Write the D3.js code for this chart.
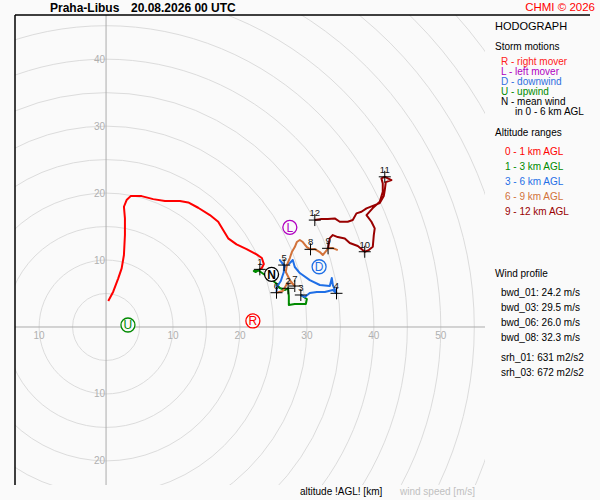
<!DOCTYPE html>
<html>
<head>
<meta charset="utf-8">
<script src="https://cdn.jsdelivr.net/npm/d3@7"></script>
<style>
  html, body { margin: 0; padding: 0; background: #fafafa; }
  svg { display: block; font-family: "Liberation Sans", Arial, sans-serif; }
</style>
</head>
<body>
<svg id="chart" width="600" height="500"></svg>
<script>
// hodograph trace [u, v] in m/s, split by altitude band
const layer0_1 = [[0.33,3.88],[1.07,5.27],[1.82,7.27],[2.33,8.76],[2.67,10.75],[2.82,13.73],[2.82,16.22],
  [2.67,17.96],[3.07,18.96],[3.67,19.55],[5.31,19.55],[7.04,19.10],[8.79,18.81],[11.03,18.81],[12.27,18.61],
  [13.76,17.81],[15.51,16.72],[16.75,15.72],[17.49,14.48],[18.24,13.24],[19.49,12.34],[20.99,11.64],
  [22.48,10.85],[23.27,10.30],[23.57,9.40],[23.27,8.81],[22.97,8.61]];
const layer1_3 = [[22.97,8.61],[22.37,8.21],[22.07,8.36],[22.67,8.51],[24.16,7.46],[25.36,6.57],[25.96,5.82],
  [26.70,5.52],[27.19,5.78],[27.30,4.63],[27.30,3.28],[28.19,3.43],[29.84,3.43],[29.99,4.18],[29.09,4.78]];
const layer3_6 = [[29.09,4.78],[29.69,4.48],[30.43,5.07],[31.48,5.22],[32.67,5.22],[33.87,5.52],[34.42,5.03],
  [33.87,6.27],[33.72,7.31],[33.42,6.12],[31.93,6.27],[30.43,7.01],[28.94,8.06],[28.19,8.96],[27.89,10.0],
  [27.45,9.55],[26.70,8.96],[25.96,10.0],[26.60,9.25],[26.55,8.21],[26.10,6.87],[25.51,5.97],[25.46,5.12]];
const layer6_9 = [[25.46,5.12],[26.40,5.37],[27.00,6.42],[27.75,6.57],[28.19,6.12],[27.45,7.01],[26.85,8.21],
  [27.00,9.25],[27.45,10.30],[27.75,11.19],[28.19,11.94],[28.49,12.69],[28.94,12.99],[29.39,12.69],
  [29.99,11.94],[30.54,11.60],[31.18,11.64],[31.93,11.19],[32.37,10.75],[32.97,11.49],[33.16,11.75],
  [33.87,11.79],[34.61,11.49]];
const layer9_12 = [[33.16,11.75],[33.42,13.28],[33.87,13.73],[34.61,13.43],[35.66,13.21],[36.40,12.54],
  [37.60,12.09],[38.64,11.24],[39.24,11.49],[39.84,11.99],[39.99,13.73],[40.13,14.73],[39.64,15.72],
  [38.90,16.72],[39.84,17.76],[40.88,18.70],[41.33,20.19],[41.33,21.45],[41.13,22.19],[41.63,22.43],
  [42.63,21.94],[41.78,21.64],[41.63,20.45],[41.48,19.55],[40.88,18.51],[38.90,17.72],[38.15,17.21],
  [37.40,16.97],[36.85,15.97],[36.10,15.72],[34.91,15.72],[34.16,16.22],[33.12,16.12],[32.18,16.12],
  [31.18,15.97]];

const layerColors = ['#ff0000', '#008a00', '#1f6fe6', '#d2723a', '#990000'];
const layerNames = ['0 - 1 km AGL', '1 - 3 km AGL', '3 - 6 km AGL', '6 - 9 km AGL', '9 - 12 km AGL'];

// wind at every km (1..12)
const kmLabels = ['1','2','3','4','5','6','7','8','9','10','11','12'];
const kmPoints = [[22.97,8.61],[27.19,5.78],[29.09,4.78],[34.42,5.03],[26.60,9.25],[25.46,5.12],
  [28.19,6.12],[30.54,11.60],[33.16,11.75],[38.64,11.24],[41.63,22.43],[31.18,15.97]];

// storm motions
const stormLetters = ['R', 'L', 'D', 'U', 'N'];
const stormPoints = [[21.93,0.90],[27.45,14.88],[31.82,9.00],[3.27,0.30],[24.72,7.87]];
const stormColors = ['#ff0000', '#b000c0', '#1f6fe6', '#008a00', '#000000'];

const stormLegend = ['R - right mover', 'L - left mover', 'D - downwind', 'U - upwind', 'N - mean wind'];
const legendColors = ['#ff2020', '#b000c0', '#2f6fe0', '#008a00', '#000000'];

const windProfile = ['bwd_01: 24.2 m/s', 'bwd_03: 29.5 m/s', 'bwd_06: 26.0 m/s', 'bwd_08: 32.3 m/s'];
const helicity = ['srh_01: 631 m2/s2', 'srh_03: 672 m2/s2'];

const xTicks = [-10, 10, 20, 30, 40, 50];
const yTicks = [40, 30, 20, 10, -10, -20];
const ringStep = 5;
const ringMax = 75;

const svg = d3.select('#chart');
const L = 15, T = 15, R = 485, B = 485;

const x = d3.scaleLinear().domain([-13.6, 56.6]).range([L, R]);
const y = d3.scaleLinear().domain([-23.6, 46.6]).range([B, T]);
const px = x(1) - x(0);

svg.append('defs').append('clipPath').attr('id', 'plot')
  .append('rect').attr('x', L).attr('y', T).attr('width', R - L).attr('height', B - T);

const plot = svg.append('g').attr('clip-path', 'url(#plot)');

// speed rings
plot.selectAll('circle.ring')
  .data(d3.range(ringStep, ringMax + 1, ringStep))
  .enter().append('circle')
  .attr('class', 'ring')
  .attr('cx', x(0)).attr('cy', y(0))
  .attr('r', d => d * px)
  .attr('fill', 'none')
  .attr('stroke', '#dcdcdc')
  .attr('stroke-width', 1);

// axes through origin
plot.append('line').attr('x1', L).attr('x2', R).attr('y1', y(0)).attr('y2', y(0))
  .attr('stroke', '#ababab');
plot.append('line').attr('x1', x(0)).attr('x2', x(0)).attr('y1', T).attr('y2', B)
  .attr('stroke', '#ababab');

svg.selectAll('text.xt')
  .data(xTicks)
  .enter().append('text')
  .attr('x', d => x(d)).attr('y', y(0) + 12)
  .attr('text-anchor', 'middle')
  .attr('font-size', 10).attr('fill', '#b0b0b0')
  .text(d => Math.abs(d));

svg.selectAll('text.yt')
  .data(yTicks)
  .enter().append('text')
  .attr('x', x(0) - 1).attr('y', d => y(d) + 3.5)
  .attr('text-anchor', 'end')
  .attr('font-size', 10).attr('fill', '#b0b0b0')
  .text(d => Math.abs(d));

// frame
svg.append('line').attr('x1', L).attr('x2', L).attr('y1', T).attr('y2', B)
  .attr('stroke', '#000').attr('stroke-width', 1.5);
svg.append('line').attr('x1', L).attr('x2', 590).attr('y1', T).attr('y2', T)
  .attr('stroke', '#000').attr('stroke-width', 1.5);

// hodograph
const line = d3.line().x(d => x(d[0])).y(d => y(d[1]));
[layer0_1, layer1_3, layer3_6, layer6_9, layer9_12].forEach((pts, i) => {
  plot.append('path')
    .datum(pts)
    .attr('d', line)
    .attr('fill', 'none')
    .attr('stroke', layerColors[i])
    .attr('stroke-width', 2)
    .attr('stroke-linejoin', 'round');
});

// km crosses
const km = plot.selectAll('g.km')
  .data(kmPoints)
  .enter().append('g')
  .attr('transform', d => `translate(${x(d[0])},${y(d[1])})`);
km.append('path').attr('d', 'M-6,0H6M0,-6V6').attr('stroke', '#000').attr('stroke-width', 1);
km.append('text')
  .attr('y', -4).attr('text-anchor', 'middle')
  .attr('font-size', 9.5).attr('fill', '#111')
  .text((d, i) => kmLabels[i]);

// storm motion markers
const sm = plot.selectAll('g.sm')
  .data(stormPoints)
  .enter().append('g')
  .attr('transform', d => `translate(${x(d[0])},${y(d[1])})`);
sm.append('circle').attr('r', 7)
  .attr('fill', (d, i) => stormLetters[i] === 'N' ? '#fff' : '#fafafa')
  .attr('stroke', (d, i) => stormColors[i]).attr('stroke-width', 1.3);
sm.append('text')
  .attr('y', 4.3).attr('text-anchor', 'middle')
  .attr('font-size', 12)
  .attr('font-weight', (d, i) => stormLetters[i] === 'N' ? 'bold' : 'normal')
  .attr('fill', (d, i) => stormColors[i])
  .text((d, i) => stormLetters[i]);

// titles
svg.append('text').attr('x', 50).attr('y', 11.5).attr('font-size', 12).attr('font-weight', 'bold')
  .text('Praha-Libus');
svg.append('text').attr('x', 131).attr('y', 11.5).attr('font-size', 12).attr('font-weight', 'bold')
  .text('20.08.2026 00 UTC');
svg.append('text').attr('x', 595).attr('y', 11).attr('text-anchor', 'end')
  .attr('font-size', 11.5).attr('fill', '#ff0000').text('CHMI © 2026');

// right panel
const panel = svg.append('g').attr('font-size', 10);
panel.append('text').attr('x', 495).attr('y', 30).attr('font-size', 11).text('HODOGRAPH');
panel.append('text').attr('x', 495).attr('y', 50).text('Storm motions');
panel.selectAll('text.sl')
  .data(stormLegend)
  .enter().append('text')
  .attr('x', 501).attr('y', (d, i) => 65 + i * 10)
  .attr('fill', (d, i) => legendColors[i])
  .text(d => d);
panel.append('text').attr('x', 515).attr('y', 115).text('in 0 - 6 km AGL');

panel.append('text').attr('x', 495).attr('y', 135.5).text('Altitude ranges');
panel.selectAll('text.al')
  .data(layerNames)
  .enter().append('text')
  .attr('x', 505).attr('y', (d, i) => 155 + i * 15)
  .attr('fill', (d, i) => layerColors[i])
  .text(d => d);

panel.append('text').attr('x', 495).attr('y', 276.5).text('Wind profile');
panel.selectAll('text.wp')
  .data(windProfile)
  .enter().append('text')
  .attr('x', 501).attr('y', (d, i) => 295.5 + i * 15)
  .text(d => d);
panel.selectAll('text.hl')
  .data(helicity)
  .enter().append('text')
  .attr('x', 501).attr('y', (d, i) => 360.5 + i * 15)
  .text(d => d);

// bottom captions
svg.append('text').attr('x', 300).attr('y', 495).attr('font-size', 10).text('altitude !AGL! [km]');
svg.append('text').attr('x', 400).attr('y', 495).attr('font-size', 10).attr('fill', '#c0c0c0')
  .text('wind speed [m/s]');
</script>
</body>
</html>
